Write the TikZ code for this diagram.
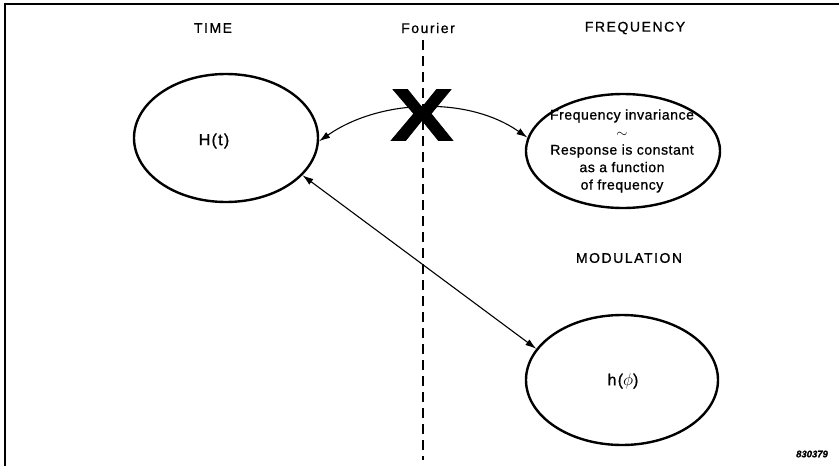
\documentclass[tikz,border=0pt]{standalone}
\usepackage{fontspec}
\setmainfont[FakeBold=0.9]{Liberation Sans}
\newfontfamily\spacedsans[LetterSpace=11,FakeBold=0.9]{Liberation Sans}
\newfontfamily\widesans[LetterSpace=8,FakeBold=0.9]{Liberation Sans}
\newfontfamily\textsans[LetterSpace=4,FakeBold=0.9]{Liberation Sans}
\usetikzlibrary{arrows.meta,shapes.geometric}
\begin{document}
\begin{tikzpicture}[x=1pt,y=-1pt,
  bubble/.style={draw,line width=2.4pt,ellipse,inner sep=0pt},
  head/.style={font=\spacedsans\fontsize{14}{16}\selectfont},
  link/.style={line width=1.1pt,{Latex[length=11pt,width=7pt]}-{Latex[length=11pt,width=7pt]}},
  body/.style={font=\textsans\fontsize{14}{17.5}\selectfont,align=center},
  fn/.style={font=\widesans\fontsize{16}{18}\selectfont}]
\useasboundingbox (0,0) rectangle (839,466);
% frame: top and left rules only
\draw[line width=1.3pt] (839,4) -- (5,4) -- (5,466);
% column headings
\node[head] (time) at (213,28) {TIME};
\node[head] (four) at (428,28) {Fourier};
\node[head] (freq) at (635,28) {FREQUENCY};
\node[head] (modu) at (629,258) {MODULATION};
% Fourier divide
\coordinate (dtop) at (423,40);
\coordinate (dbot) at (423,460);
\draw[line width=1.2pt,dash pattern=on 10pt off 6pt] (dtop) -- (dbot);
% domains
\node[bubble,minimum width=184pt,minimum height=128pt] (Ht) at (226,138) {};
\node[fn] (Httext) at (214,141) {H(t)};
\node[bubble,minimum width=194pt,minimum height=114pt] (Fr) at (623,151) {};
\node[body] (Frtext) at (622,151) {Frequency invariance\\$\sim$\\Response is constant\\as a function\\of frequency};
\node[bubble,minimum width=192pt,minimum height=130pt] (hp) at (622,380) {};
\node[fn] (hptext) at (623,381) {h($\phi$)};
% relations
\draw[link] (Ht.-2) .. controls +(60,-42) and +(-60,-42) .. (Fr.172);
\draw[link] (Ht.-26) -- (hp.160);
% blocked transform mark
\node[font=\fontsize{74}{74}\bfseries\selectfont,inner sep=0pt] (cross) at (422,115) {\scalebox{1.28}[1]{X}};
% figure number
\node[font=\fontsize{9.5}{10}\bfseries\itshape\selectfont] (fig) at (812,454) {830379};
\end{tikzpicture}
\end{document}
